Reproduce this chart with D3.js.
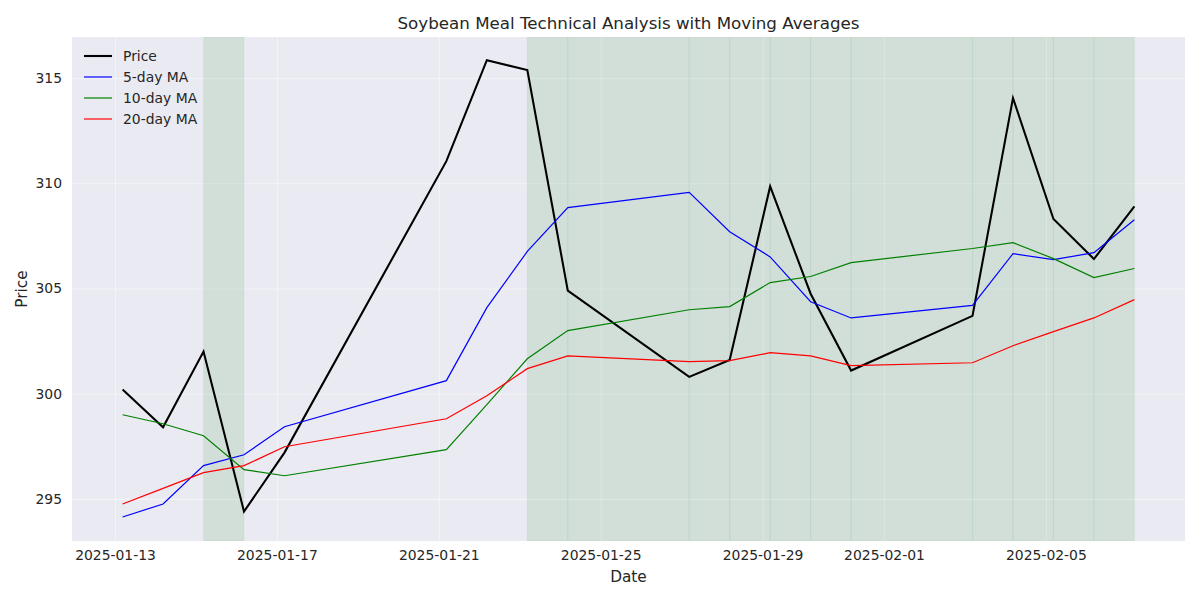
<!DOCTYPE html>
<html>
<head>
<meta charset="utf-8">
<script src="https://cdn.jsdelivr.net/npm/d3@7"></script>
<style>
  body { margin: 0; background: #fff; }
  svg { display: block; font-family: "DejaVu Sans", sans-serif; }
</style>
</head>
<body>
<svg id="chart" width="1200" height="600"></svg>
<script>
const dates = ["2025-01-13 04:30","2025-01-14 04:30","2025-01-15 04:30","2025-01-16 04:30","2025-01-17 04:30","2025-01-21 04:30","2025-01-22 04:30","2025-01-23 04:30","2025-01-24 04:30","2025-01-27 04:30","2025-01-28 04:30","2025-01-29 04:30","2025-01-30 04:30","2025-01-31 04:30","2025-02-03 04:30","2025-02-04 04:30","2025-02-05 04:30","2025-02-06 04:30","2025-02-07 04:30"];
const price = [300.2,298.4,302.0,294.4,297.2,311.05,315.85,315.38,304.9,300.8,301.6,309.85,304.75,301.1,303.7,314.05,308.3,306.4,308.9];
const ma5   = [294.14,294.76,296.58,297.1,298.43,300.62,304.09,306.76,308.84,309.57,307.7,306.5,304.37,303.6,304.2,306.65,306.37,306.7,308.27];
const ma10  = [299.0,298.57,298.0,296.39,296.1,297.34,299.48,301.66,303.0,303.99,304.14,305.28,305.57,306.23,306.9,307.18,306.42,305.52,305.95];
const ma20  = [294.76,295.5,296.25,296.58,297.48,298.81,299.9,301.19,301.8,301.52,301.57,301.95,301.8,301.33,301.47,302.28,302.95,303.6,304.47];
// shaded intervals: each spans from the point at this index to the next point
const shadeStartIdx = [2,7,8,9,10,11,12,13,14,15,16,17];
const yTicks = [295,300,305,310,315];
const xTickLabels = ["2025-01-13","2025-01-17","2025-01-21","2025-01-25","2025-01-29","2025-02-01","2025-02-05"];

const parseDT = d3.utcParse("%Y-%m-%d %H:%M");
const parse = d3.utcParse("%Y-%m-%d");
const fmt = d3.utcFormat("%Y-%m-%d");
const D = dates.map(parseDT);

const svg = d3.select("#chart");
const m = {left: 72, right: 1185, top: 37, bottom: 541};

const t0 = D[0], t1 = D[D.length-1];
const span = t1 - t0;
const x = d3.scaleUtc().domain([new Date(+t0 - span*0.05), new Date(+t1 + span*0.05)]).range([m.left, m.right]);
const y = d3.scaleLinear().domain([293.0, 316.95]).range([m.bottom, m.top]);

svg.append("rect").attr("x", m.left).attr("y", m.top)
  .attr("width", m.right - m.left).attr("height", m.bottom - m.top).attr("fill", "#eaeaf2");

svg.append("clipPath").attr("id","clip").append("rect")
  .attr("x", m.left).attr("y", m.top).attr("width", m.right - m.left).attr("height", m.bottom - m.top);

// grid + axes
const xTicks = xTickLabels.map(parse);
const gx = svg.append("g").attr("transform", `translate(0,${m.bottom})`)
  .call(d3.axisBottom(x).tickValues(xTicks).tickFormat(fmt).tickSize(-(m.bottom - m.top)).tickPadding(9));
gx.select(".domain").remove();
gx.selectAll(".tick line").attr("stroke", "#fff").attr("stroke-opacity", 0.45).attr("stroke-width", 1.1);
gx.selectAll(".tick text").attr("fill", "#262626").style("font-size", "13.9px").style("font-family", "DejaVu Sans");

const gy = svg.append("g").attr("transform", `translate(${m.left},0)`)
  .call(d3.axisLeft(y).tickValues(yTicks).tickFormat(d3.format("d")).tickSize(-(m.right - m.left)).tickPadding(10));
gy.select(".domain").remove();
gy.selectAll(".tick line").attr("stroke", "#fff").attr("stroke-opacity", 0.45).attr("stroke-width", 1.1);
gy.selectAll(".tick text").attr("fill", "#262626").style("font-size", "13.9px").style("font-family", "DejaVu Sans");

// shading
const plot = svg.append("g").attr("clip-path", "url(#clip)");
shadeStartIdx.forEach(i => {
  const a = x(D[i]), b = x(D[i+1]);
  plot.append("rect").attr("x", a).attr("y", m.top).attr("width", b - a).attr("height", m.bottom - m.top)
    .attr("fill", "green").attr("fill-opacity", 0.1)
    .attr("stroke", "green").attr("stroke-opacity", 0.045).attr("stroke-width", 1.2);
});

const series = [
  {name: "Price", vals: price, color: "black", w: 2.08},
  {name: "5-day MA", vals: ma5, color: "blue", w: 1.2},
  {name: "10-day MA", vals: ma10, color: "green", w: 1.2},
  {name: "20-day MA", vals: ma20, color: "red", w: 1.2}
];
const line = d3.line().x((d,i) => x(D[i])).y(d => y(d));
series.forEach(s => {
  plot.append("path").datum(s.vals).attr("d", line).attr("fill", "none")
    .attr("stroke", s.color).attr("stroke-width", s.w).attr("stroke-linejoin", "miter");
});

// legend
const lg = svg.append("g");
series.forEach((s, i) => {
  const yy = 56 + i * 21;
  lg.append("line").attr("x1", 84).attr("x2", 112).attr("y1", yy).attr("y2", yy)
    .attr("stroke", s.color).attr("stroke-width", s.w);
  lg.append("text").attr("x", 123).attr("y", yy).attr("dy", "0.35em")
    .attr("fill", "#262626").style("font-size", "13.9px").text(s.name);
});

// title and labels
svg.append("text").attr("x", (m.left + m.right) / 2).attr("y", 29).attr("text-anchor", "middle")
  .attr("fill", "#262626").style("font-size", "16.7px").text("Soybean Meal Technical Analysis with Moving Averages");
svg.append("text").attr("x", (m.left + m.right) / 2).attr("y", 582).attr("text-anchor", "middle")
  .attr("fill", "#262626").style("font-size", "15.3px").text("Date");
svg.append("text").attr("transform", `translate(27,${(m.top + m.bottom) / 2}) rotate(-90)`).attr("text-anchor", "middle")
  .attr("fill", "#262626").style("font-size", "15.3px").text("Price");
</script>
</body>
</html>
